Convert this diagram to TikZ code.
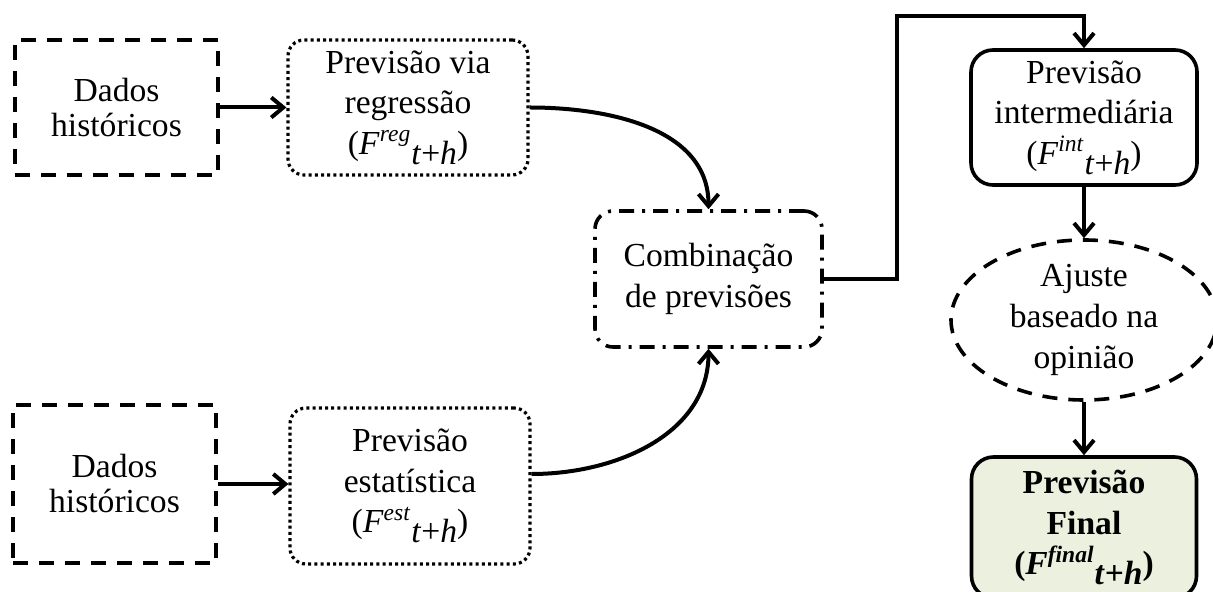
\documentclass[tikz,border=0pt]{standalone}
\usepackage{fontspec}
\setmainfont{Liberation Serif}
\usetikzlibrary{arrows.meta,shapes.geometric,calc}
\definecolor{finalfill}{RGB}{236,240,222}
\newcommand{\Fsym}[1]{(\textit{F}\textsuperscript{\textit{#1}}\raisebox{-0.3em}{\textit{t}+\textit{h}})}
\newcommand{\Fbold}[1]{\textbf{(\textit{F}\textsuperscript{\textit{#1}}\raisebox{-0.3em}{\textit{t}+\textit{h}})}}
\tikzset{
  box/.style={draw=black, align=center, inner sep=0pt, font=\fontsize{16.8}{20.3}\selectfont},
  databox/.style={box, line width=1.8pt, dash pattern=on 7.5pt off 5.5pt},
  dotbox/.style={box, line width=1.6pt, dash pattern=on 1.5pt off 1.6pt, rounded corners=8pt},
  combbox/.style={box, line width=1.8pt, dash pattern=on 7.5pt off 4pt on 1.5pt off 4pt, rounded corners=9pt},
  solidbox/.style={box, line width=1.8pt, rounded corners=11pt},
  ellbox/.style={box, ellipse, line width=1.8pt, dash pattern=on 7.5pt off 5.5pt},
  conn/.style={line width=2pt, -{Straight Barb[length=6pt,width=10pt,line width=2pt]}},
}
\begin{document}
\begin{tikzpicture}[x=0.5pt,y=-0.5pt]
\useasboundingbox (0,0) rectangle (1213,592);
\node[databox, minimum width=101.5pt, minimum height=67.5pt, font=\fontsize{16.8}{17.5}\selectfont] (d1) at (116.5,107.5) {Dados\\históricos};
\node[dotbox, minimum width=120pt, minimum height=67.5pt] (reg) at (408,107.5) {Previsão via\\regressão\\\Fsym{reg}};
\node[databox, minimum width=101.5pt, minimum height=79pt, font=\fontsize{16.8}{17.5}\selectfont] (d2) at (114.5,484) {Dados\\históricos};
\node[dotbox, minimum width=120pt, minimum height=78pt] (est) at (410,486) {Previsão\\estatística\\\Fsym{est}};
\node[combbox, minimum width=113.5pt, minimum height=68pt] (comb) at (708.5,279) {Combinação\\de previsões};
\node[solidbox, minimum width=113pt, minimum height=67.5pt] (int) at (1084,117.5) {Previsão\\intermediária\\\Fsym{int}};
\node[ellbox, minimum width=133pt, minimum height=80pt] (ell) at (1084,320) {Ajuste\\baseado na\\opinião};
\node[solidbox, fill=finalfill, minimum width=112.5pt, minimum height=70.5pt] (fin) at (1084,527.5) {\textbf{Previsão}\\\textbf{Final}\\\Fbold{final}};
\coordinate (top) at (897,16);
\draw[conn] (d1.east) -- (d1.east -| reg.west);
\draw[conn] (d2.east) -- (d2.east -| est.west);
\draw[conn] (reg.east) to[out=0,in=90] (comb.north);
\draw[conn] ($(est.east)+(0,-12)$) to[out=0,in=-90] (comb.south);
\draw[conn] (comb.east) -| (top) -| (int.north);
\draw[conn] (int.south) -- (ell.north);
\draw[conn] (ell.south) -- (fin.north);
\end{tikzpicture}
\end{document}
